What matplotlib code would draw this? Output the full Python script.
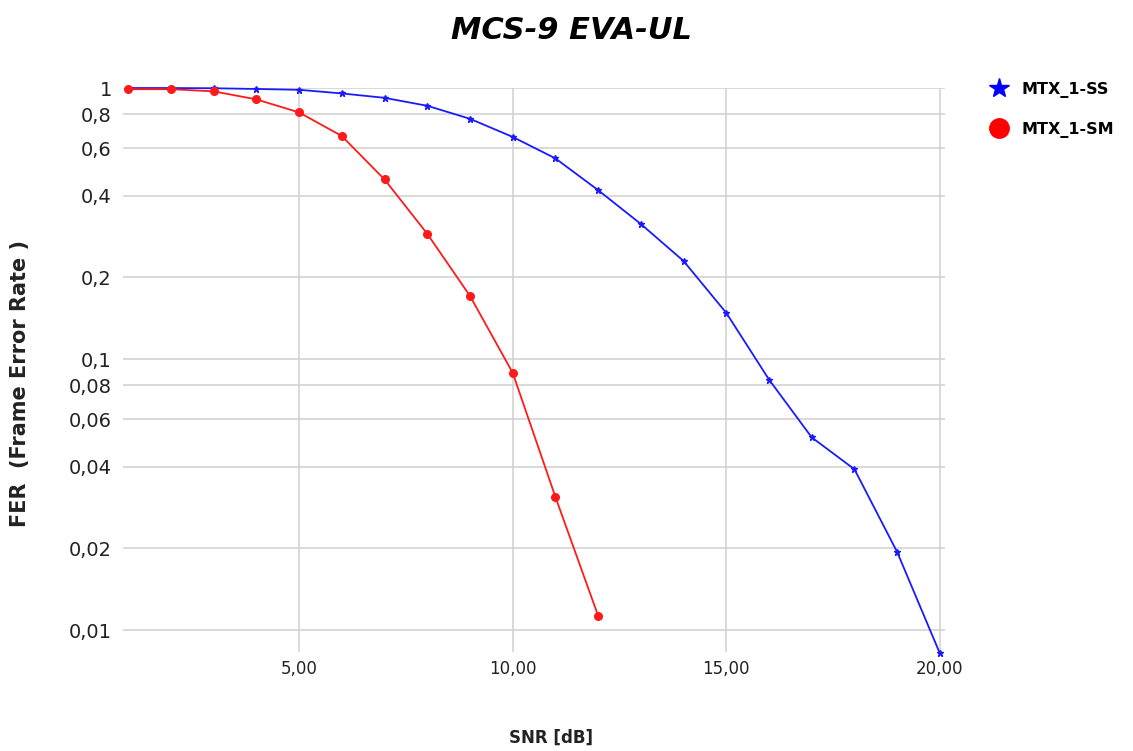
import numpy as np
import matplotlib
matplotlib.use("Agg")
import matplotlib.pyplot as plt
from matplotlib.lines import Line2D
from matplotlib.ticker import FixedLocator, FuncFormatter, NullLocator

snr = [1, 2, 3, 4, 5, 6, 7, 8, 9, 10, 11, 12, 13, 14, 15, 16, 17, 18, 19, 20]
fer_ss = [1.0, 1.0, 0.998, 0.992, 0.985, 0.955, 0.92, 0.86, 0.77, 0.66, 0.55, 0.42,
          0.315, 0.23, 0.148, 0.084, 0.0514, 0.0392, 0.0194, 0.0082]
snr_sm = [1, 2, 3, 4, 5, 6, 7, 8, 9, 10, 11, 12]
fer_sm = [0.99, 0.99, 0.972, 0.908, 0.813, 0.665, 0.46, 0.29, 0.171, 0.089, 0.031, 0.0113]

yticks = [1, 0.8, 0.6, 0.4, 0.2, 0.1, 0.08, 0.06, 0.04, 0.02, 0.01]
xticks = [5, 10, 15, 20]

plt.rcParams['font.family'] = ['DejaVu Sans']

fig = plt.figure(figsize=(11.33, 7.51), dpi=100)
ax = fig.add_axes([0.1086, 0.1318, 0.7255, 0.751])

ax.plot(snr, fer_ss, color='#1a1aff', lw=1.3, marker='*', markersize=5, clip_on=False, zorder=3)
ax.plot(snr_sm, fer_sm, color='#ff1a1a', lw=1.3, marker='o', markersize=5.5, clip_on=False, zorder=3)

ax.set_yscale('log')
ax.set_xlim(0.88, 20.12)
ax.set_ylim(0.0083, 1.0)
ax.yaxis.set_major_locator(FixedLocator(yticks))
ax.yaxis.set_minor_locator(NullLocator())
ax.yaxis.set_major_formatter(FuncFormatter(lambda v, p: ('%g' % v).replace('.', ',')))
ax.xaxis.set_major_locator(FixedLocator(xticks))
ax.xaxis.set_major_formatter(FuncFormatter(lambda v, p: ('%.2f' % v).replace('.', ',')))

ax.grid(True, color='#d0d0d0', lw=1.1)
ax.set_axisbelow(True)
for s in ax.spines.values():
    s.set_visible(False)
ax.tick_params(axis='x', length=0, pad=6, labelsize=12, labelcolor='#222222')
ax.tick_params(axis='y', length=0, pad=8, labelsize=14, labelcolor='#222222')

fig.text(0.504, 0.96, 'MCS-9 EVA-UL', fontsize=22, fontweight='bold', fontstyle='italic',
         ha='center', va='center')
fig.text(0.486, 0.017, 'SNR [dB]', fontsize=12, fontweight='bold', color='#222222',
         ha='center', va='center')
fig.text(0.018, 0.49, 'FER  (Frame Error Rate )', fontsize=15, fontweight='bold', color='#222222',
         ha='center', va='center', rotation=90)

handles = [Line2D([], [], color='#0000ff', marker='*', linestyle='none', markersize=15),
           Line2D([], [], color='#ff0000', marker='o', linestyle='none', markersize=14)]
fig.legend(handles, ['MTX_1-SS', 'MTX_1-SM'], loc='upper left', bbox_to_anchor=(0.855, 0.91),
           frameon=False, handletextpad=0.4, labelspacing=1.5,
           prop={'weight': 'bold', 'size': 11.5})

fig.savefig('out.png', dpi=100)
